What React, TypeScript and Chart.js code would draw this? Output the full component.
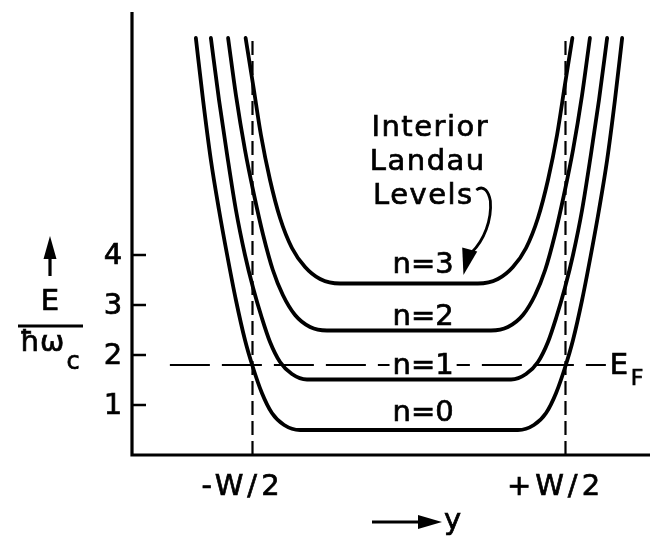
import React, { useEffect, useRef } from "react";
import { Chart, registerables } from "chart.js";

Chart.register(...registerables);

// ---- data (x in units of W, energy in units of ħω_c) ----
const n0X = [-0.681, -0.658, -0.633, -0.607, -0.581, -0.553, -0.524, -0.5, -0.47, -0.438, -0.399, -0.348, 0.348, 0.399, 0.438, 0.47, 0.5, 0.524, 0.553, 0.581, 0.607, 0.633, 0.658, 0.681];
const n0E = [8.34, 7.1, 5.9, 4.9, 4.0, 3.1, 2.3, 1.78, 1.24, 0.84, 0.6, 0.5, 0.5, 0.6, 0.84, 1.24, 1.78, 2.3, 3.1, 4.0, 4.9, 5.9, 7.1, 8.34];

const n1X = [-0.633, -0.607, -0.581, -0.553, -0.524, -0.498, -0.47, -0.444, -0.412, -0.374, -0.326, 0.326, 0.374, 0.412, 0.444, 0.47, 0.498, 0.524, 0.553, 0.581, 0.607, 0.633];
const n1E = [8.34, 7.1, 6.0, 4.9, 4.0, 3.34, 2.74, 2.26, 1.86, 1.62, 1.51, 1.51, 1.62, 1.86, 2.26, 2.74, 3.34, 4.0, 4.9, 6.0, 7.1, 8.34];

const n2X = [-0.578, -0.553, -0.524, -0.495, -0.466, -0.435, -0.403, -0.364, -0.316, -0.262, 0.262, 0.316, 0.364, 0.403, 0.435, 0.466, 0.495, 0.524, 0.553, 0.578];
const n2E = [8.34, 7.2, 6.1, 5.2, 4.4, 3.7, 3.2, 2.8, 2.56, 2.49, 2.49, 2.56, 2.8, 3.2, 3.7, 4.4, 5.2, 6.1, 7.2, 8.34];

const n3X = [-0.522, -0.498, -0.473, -0.444, -0.412, -0.374, -0.332, -0.284, -0.22, 0.22, 0.284, 0.332, 0.374, 0.412, 0.444, 0.473, 0.498, 0.522];
const n3E = [8.34, 7.4, 6.4, 5.5, 4.74, 4.14, 3.76, 3.52, 3.43, 3.43, 3.52, 3.76, 4.14, 4.74, 5.5, 6.4, 7.4, 8.34];

const levelLabels = ["n=0", "n=1", "n=2", "n=3"];
const levelLabelE = [0.86, 1.8, 2.78, 3.82];

const yTicks = [1, 2, 3, 4];
const edgeX = [-0.5, 0.5];
const edgeLabels = ["-W/2", "+W/2"];
const edgeTopE = 8.28;
const fermiE = 1.8;
const fermiXRange = [-0.764, 0.629];

const xMin = -0.885;
const xMax = 0.77;
const yMin = 0;
const yMax = 8.86;

const FONT = '"DejaVu Sans", sans-serif';

function pts(xs: number[], es: number[]) {
  return xs.map((x, i) => ({ x, y: es[i] }));
}

const App = () => {
  const ref = useRef<HTMLCanvasElement | null>(null);

  useEffect(() => {
    if (!ref.current) return;

    const annot = {
      id: "annot",
      afterDatasetsDraw(chart: any) {
        const ctx = chart.ctx as CanvasRenderingContext2D;
        const xs = chart.scales.x;
        const ys = chart.scales.y;
        const X = (v: number) => xs.getPixelForValue(v);
        const Y = (v: number) => ys.getPixelForValue(v);
        const ax = X(xMin);
        const ay = Y(0);
        ctx.save();
        ctx.strokeStyle = "#000";
        ctx.fillStyle = "#000";

        const text = (s: string, x: number, y: number) => {
          ctx.lineWidth = 0.7;
          ctx.fillText(s, x, y);
          ctx.strokeText(s, x, y);
        };

        // axes
        ctx.lineWidth = 3.2;
        ctx.lineJoin = "miter";
        ctx.beginPath();
        ctx.moveTo(ax, Y(yMax));
        ctx.lineTo(ax, ay);
        ctx.lineTo(X(xMax), ay);
        ctx.stroke();

        // y ticks + labels
        ctx.lineWidth = 2.5;
        ctx.font = `29px ${FONT}`;
        ctx.textAlign = "center";
        ctx.textBaseline = "middle";
        yTicks.forEach((t) => {
          ctx.lineWidth = 2.5;
          ctx.beginPath();
          ctx.moveTo(ax, Y(t));
          ctx.lineTo(ax + 14, Y(t));
          ctx.stroke();
          text(String(t), ax - 19, Y(t) + 1);
        });

        // x labels
        (ctx as any).letterSpacing = "4px";
        edgeLabels.forEach((l, i) => {
          text(l, X(edgeX[i]) - 10, ay + 32);
        });
        (ctx as any).letterSpacing = "0px";

        // level labels with white background
        levelLabels.forEach((l, i) => {
          const cx = X(0.045);
          const cy = Y(levelLabelE[i]);
          const w = ctx.measureText(l).width;
          ctx.fillStyle = "#fff";
          ctx.fillRect(cx - w / 2 - 3, cy - 10, w + 6, 20);
          ctx.fillStyle = "#000";
          text(l, cx, cy + 1);
        });

        // E_F label
        ctx.textAlign = "left";
        text("E", X(fermiXRange[1]) + 4, Y(fermiE) + 1);
        ctx.font = `22px ${FONT}`;
        text("F", X(fermiXRange[1]) + 25, Y(fermiE) + 14);

        // Interior Landau Levels
        ctx.font = `29px ${FONT}`;
        ctx.textAlign = "left";
        (ctx as any).letterSpacing = "1.5px";
        text("Interior", X(-0.12), Y(6.54));
        text("Landau", X(-0.125), Y(5.86));
        text("Levels", X(-0.115), Y(5.18));
        (ctx as any).letterSpacing = "0px";

        // curved arrow
        ctx.lineWidth = 2.8;
        ctx.beginPath();
        ctx.moveTo(X(0.215), Y(5.3));
        ctx.bezierCurveTo(X(0.24), Y(5.42), X(0.255), Y(5.25), X(0.26), Y(5.08));
        ctx.bezierCurveTo(X(0.265), Y(4.7), X(0.24), Y(4.3), X(0.2), Y(4.05));
        ctx.stroke();
        ctx.beginPath();
        ctx.moveTo(X(0.174), Y(3.6));
        ctx.lineTo(X(0.17), Y(4.15));
        ctx.lineTo(X(0.218), Y(4.07));
        ctx.closePath();
        ctx.fill();

        // y axis title
        const tx = 50;
        ctx.lineWidth = 3.2;
        ctx.beginPath();
        ctx.moveTo(tx, 276);
        ctx.lineTo(tx, 252);
        ctx.stroke();
        ctx.beginPath();
        ctx.moveTo(tx, 236);
        ctx.lineTo(tx - 6.5, 259);
        ctx.lineTo(tx + 6.5, 259);
        ctx.closePath();
        ctx.fill();
        ctx.font = `29px ${FONT}`;
        ctx.textAlign = "center";
        text("E", tx, 302);
        ctx.lineWidth = 2.8;
        ctx.beginPath();
        ctx.moveTo(18, 326);
        ctx.lineTo(83, 326);
        ctx.stroke();
        text("ħω", 42, 343);
        ctx.font = `24px ${FONT}`;
        text("c", 73, 363);

        // x axis title
        ctx.lineWidth = 3.2;
        ctx.beginPath();
        ctx.moveTo(372, 522);
        ctx.lineTo(426, 522);
        ctx.stroke();
        ctx.beginPath();
        ctx.moveTo(442, 522);
        ctx.lineTo(418, 515);
        ctx.lineTo(418, 529);
        ctx.closePath();
        ctx.fill();
        ctx.font = `29px ${FONT}`;
        ctx.textAlign = "left";
        text("y", 444, 521);

        ctx.restore();
      },
    };

    const curve = (data: { x: number; y: number }[]) => ({
      data,
      showLine: true,
      borderColor: "#000",
      borderWidth: 3.8,
      pointRadius: 0,
      cubicInterpolationMode: "monotone" as const,
      fill: false,
      borderCapStyle: "round" as const,
    });
    const dashed = (data: { x: number; y: number }[], dash: number[]) => ({
      data,
      showLine: true,
      borderColor: "#000",
      borderWidth: 2.2,
      borderDash: dash,
      pointRadius: 0,
      tension: 0,
      fill: false,
    });

    const chart = new Chart(ref.current, {
      type: "scatter",
      data: {
        datasets: [
          dashed([{ x: edgeX[0], y: 0 }, { x: edgeX[0], y: edgeTopE }], [14, 6]),
          dashed([{ x: edgeX[1], y: 0 }, { x: edgeX[1], y: edgeTopE }], [14, 6]),
          dashed([{ x: fermiXRange[0], y: fermiE }, { x: fermiXRange[1], y: fermiE }], [40, 12]),
          curve(pts(n0X, n0E)),
          curve(pts(n1X, n1E)),
          curve(pts(n2X, n2E)),
          curve(pts(n3X, n3E)),
        ] as any,
      },
      options: {
        animation: false,
        responsive: false,
        maintainAspectRatio: false,
        layout: { padding: { left: 132, right: 17, top: 12, bottom: 91 } },
        plugins: { legend: { display: false }, tooltip: { enabled: false } },
        scales: {
          x: { type: "linear", min: xMin, max: xMax, display: false },
          y: { type: "linear", min: yMin, max: yMax, display: false },
        },
      },
      plugins: [annot],
    });
    return () => chart.destroy();
  }, []);

  return (
    <div style={{ position: "absolute", left: 0, top: 0, width: 667, height: 546, background: "#fff" }}>
      <canvas ref={ref} width={667} height={546} style={{ display: "block" }} />
    </div>
  );
};

export default App;
